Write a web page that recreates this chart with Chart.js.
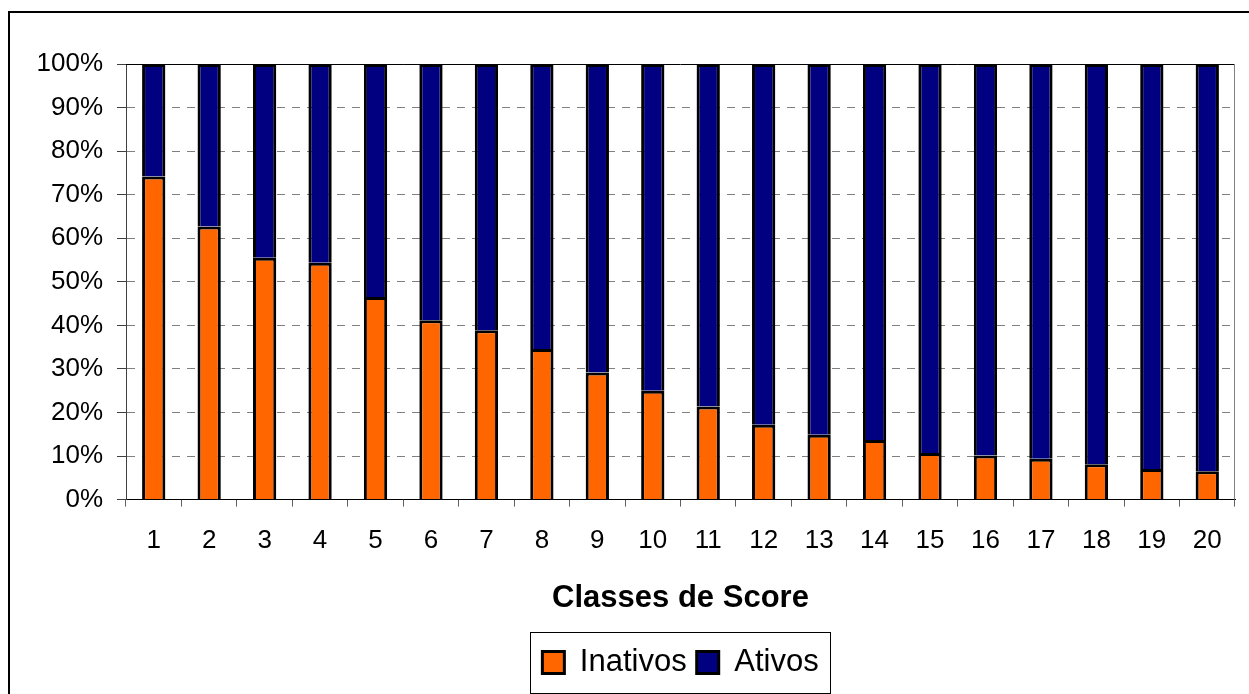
<!DOCTYPE html>
<html>
<head>
<meta charset="utf-8">
<script src="https://cdn.jsdelivr.net/npm/chart.js@4/dist/chart.umd.min.js"></script>
<style>
  html, body { margin: 0; padding: 0; background: #fff; }
  canvas { display: block; }
</style>
</head>
<body>
<canvas id="chart" width="1249" height="694"></canvas>
<script>
// Classes de score (1 a 20)
const classes = ['1','2','3','4','5','6','7','8','9','10','11','12','13','14','15','16','17','18','19','20'];
// Percentual de inativos por classe
const inativos = [74.2, 62.7, 55.5, 54.4, 46.5, 41.2, 38.9, 34.6, 29.2, 25.0, 21.4, 17.2, 14.9, 13.7, 10.7, 10.1, 9.4, 8.1, 7.0, 6.5];
// Percentual de ativos por classe
const ativos = [25.8, 37.3, 44.5, 45.6, 53.5, 58.8, 61.1, 65.4, 70.8, 75.0, 78.6, 82.8, 85.1, 86.3, 89.3, 89.9, 90.6, 91.9, 93.0, 93.5];
// Marcas do eixo Y
const yTicks = [0, 10, 20, 30, 40, 50, 60, 70, 80, 90, 100];

const FONT = 'Liberation Sans, Arial, sans-serif';

// Moldura do gráfico, borda da área de plotagem e caixa da legenda
const framePlugin = {
  id: 'frame',
  afterLayout(chart) {
    const lg = chart.legend;
    if (lg) {
      lg.left = chart.chartArea.left;
      lg.right = chart.chartArea.right;
    }
  },
  beforeDraw(chart) {
    const ctx = chart.ctx;
    ctx.save();
    ctx.fillStyle = '#fff';
    ctx.fillRect(0, 0, chart.width, chart.height);
    ctx.strokeStyle = '#000';
    ctx.lineWidth = 2;
    ctx.beginPath();
    ctx.moveTo(9, chart.height + 2);
    ctx.lineTo(9, 12);
    ctx.lineTo(chart.width + 2, 12);
    ctx.stroke();
    ctx.restore();
  },
  afterDraw(chart) {
    const ctx = chart.ctx;
    const a = chart.chartArea;
    ctx.save();
    ctx.lineWidth = 1;
    ctx.strokeStyle = '#000';
    ctx.beginPath();
    ctx.moveTo(a.left, a.top + 0.5);
    ctx.lineTo(a.right, a.top + 0.5);
    ctx.stroke();
    ctx.strokeStyle = '#808080';
    ctx.beginPath();
    ctx.moveTo(a.right - 0.5, a.top);
    ctx.lineTo(a.right - 0.5, a.bottom);
    ctx.stroke();

    const lg = chart.legend;
    if (lg && lg.lineWidths) {
      const cx = (a.left + a.right) / 2;
      const half = lg.lineWidths[0] / 2 + 7;
      const cy = lg.top + lg.options.labels.padding + 15.5;
      ctx.strokeStyle = '#000';
      ctx.lineWidth = 1;
      ctx.strokeRect(Math.round(cx - half) + 0.5, Math.round(cy - 30.5) + 0.5, Math.round(half * 2), 61);
    }
    ctx.restore();
  }
};

new Chart(document.getElementById('chart'), {
  type: 'bar',
  data: {
    labels: classes,
    datasets: [
      {
        label: 'Inativos',
        data: inativos,
        backgroundColor: '#FF6600',
        borderColor: '#000',
        borderWidth: 3
      },
      {
        label: 'Ativos',
        data: ativos,
        backgroundColor: '#000080',
        borderColor: '#000',
        borderWidth: 3
      }
    ]
  },
  options: {
    responsive: false,
    animation: false,
    devicePixelRatio: 1,
    datasets: {
      bar: { barPercentage: 0.42, categoryPercentage: 1 }
    },
    layout: { padding: { top: 64, left: 0, right: 14, bottom: 6 } },
    plugins: {
      tooltip: { enabled: false },
      legend: {
        position: 'bottom',
        labels: {
          color: '#000',
          font: { family: FONT, size: 31 },
          boxWidth: 22,
          boxHeight: 22,
          padding: 10
        }
      }
    },
    scales: {
      x: {
        stacked: true,
        grid: {
          display: true,
          drawOnChartArea: false,
          drawTicks: true,
          offset: true,
          tickLength: 7,
          tickColor: '#606060',
          tickWidth: 1
        },
        border: { display: true, color: '#000', width: 1 },
        ticks: {
          color: '#000',
          font: { family: FONT, size: 26 },
          padding: 19,
          maxRotation: 0,
          autoSkip: false
        },
        title: {
          display: true,
          text: 'Classes de Score',
          color: '#000',
          font: { family: FONT, size: 31, weight: 'bold' },
          padding: { top: 4, bottom: 20 }
        }
      },
      y: {
        stacked: true,
        min: 0,
        max: 100,
        afterFit(scale) { scale.width = 126; },
        afterBuildTicks(scale) { scale.ticks = yTicks.map(v => ({ value: v })); },
        grid: {
          color: '#808080',
          lineWidth: 1,
          drawTicks: true,
          tickLength: 9,
          tickColor: '#404040',
          tickWidth: 1
        },
        border: { display: true, color: '#404040', width: 1, dash: [8, 7] },
        ticks: {
          color: '#000',
          font: { family: FONT, size: 26 },
          padding: 14,
          callback: v => v + '%'
        }
      }
    }
  },
  plugins: [framePlugin]
});
</script>
</body>
</html>
